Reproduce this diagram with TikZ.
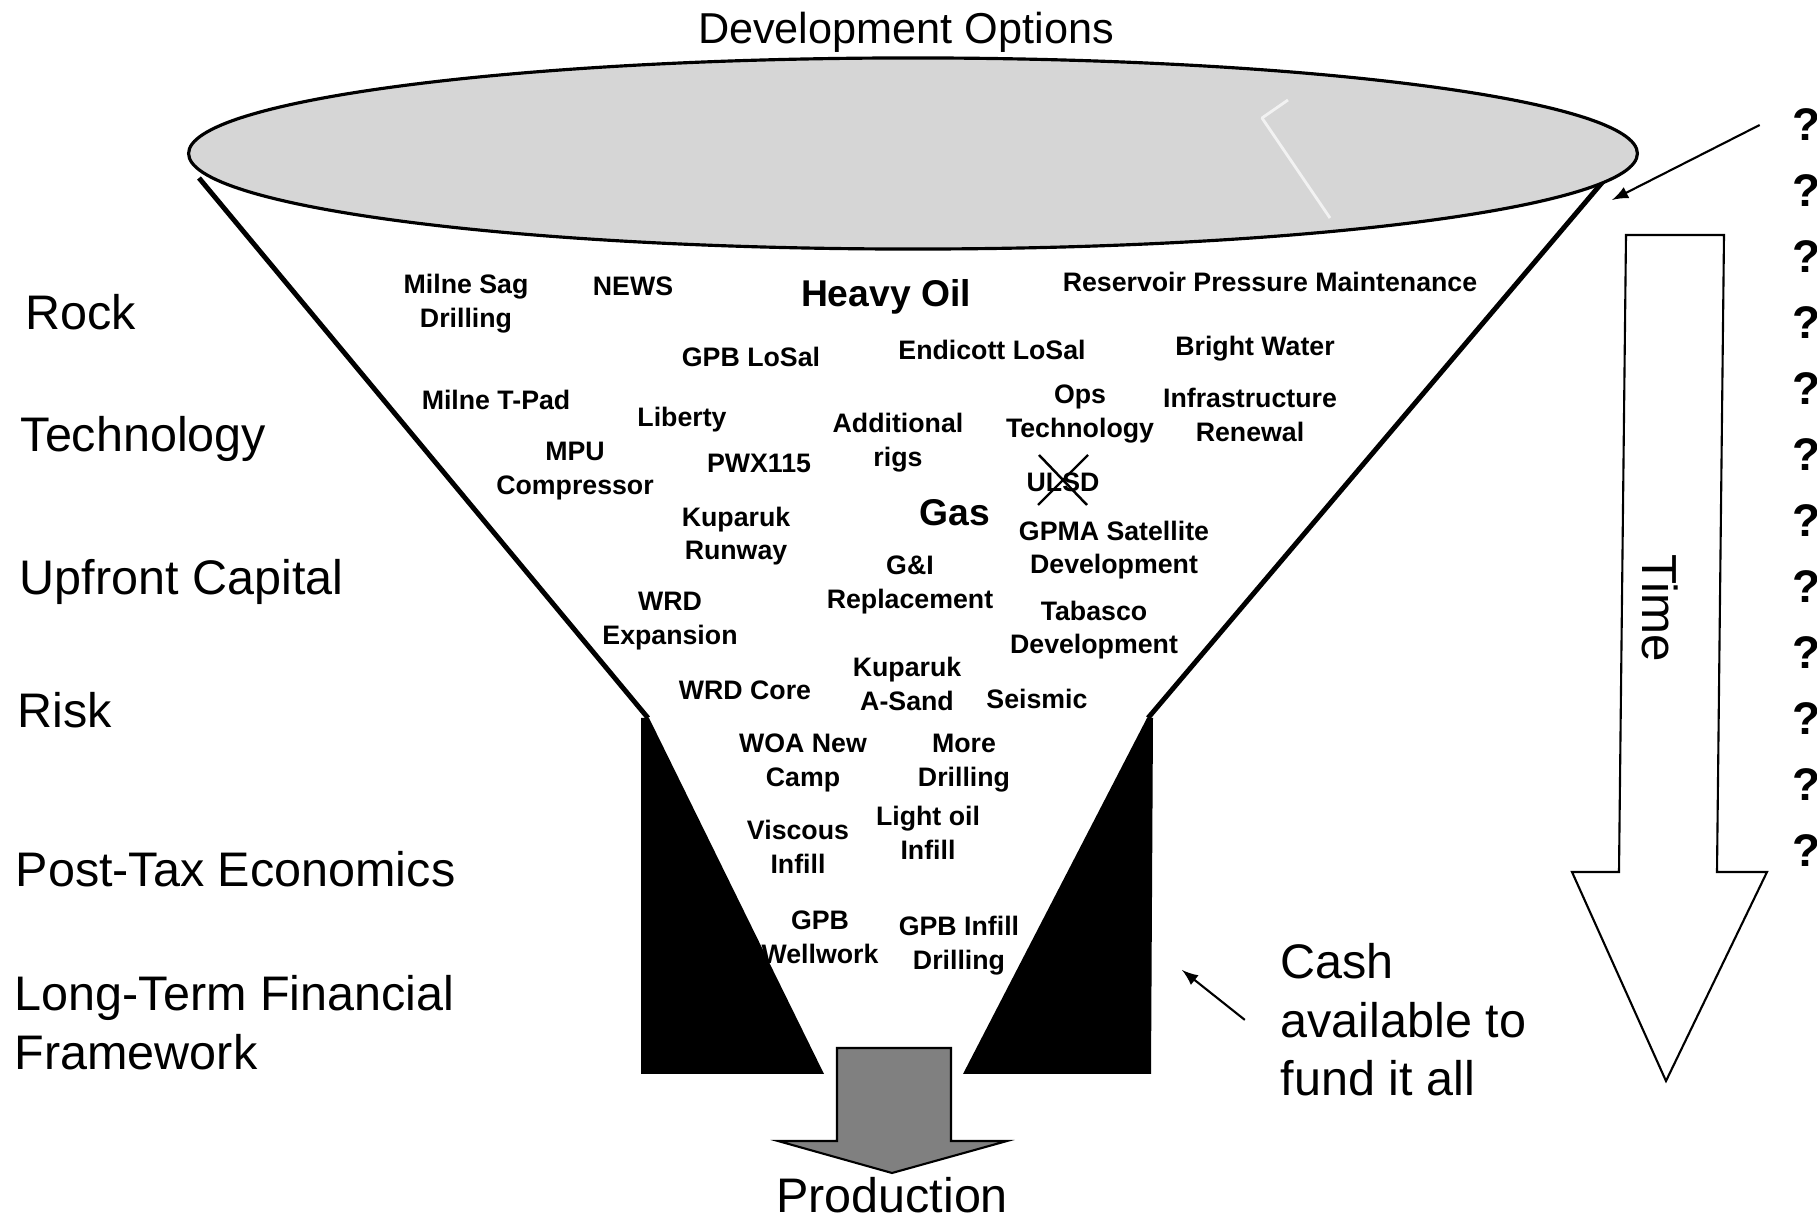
\documentclass[tikz,border=0pt]{standalone}
\usepackage{fontspec}
\setmainfont{Liberation Sans}
\usetikzlibrary{arrows}
\tikzset{>=latex}
\definecolor{rimgray}{gray}{0.84}
\definecolor{flowgray}{gray}{0.5}
\tikzset{
  option/.style={font=\bfseries\fontsize{7.6}{9.6}\selectfont,align=center,inner sep=0pt},
  bigoption/.style={font=\bfseries\fontsize{10.6}{12}\selectfont,inner sep=0pt},
  factor/.style={font=\fontsize{13.8}{16.6}\selectfont,align=left,inner sep=0pt},
  qmark/.style={font=\bfseries\fontsize{13}{13}\selectfont,inner sep=0pt},
  funnel/.style={line width=1.4pt},
  pointer/.style={->,line width=0.6pt}
}

\begin{document}
\begin{tikzpicture}[x=0.01cm,y=-0.01cm]
  \useasboundingbox (0,0) rectangle (1817,1222);
  % funnel walls, then the rim over their ends
  \draw[funnel] (199,178) -- (648,718);
  \draw[funnel] (1606,178) -- (1148,718);
  \draw[fill=rimgray,line width=0.9pt] (913,153.5) ellipse [x radius=7.24cm,y radius=0.955cm];
  \draw[white,line width=0.8pt,opacity=0.7,line join=round] (1288,100) -- (1262,118) -- (1330,218);
  \node[font=\fontsize{12.3}{14}\selectfont,anchor=base,inner sep=0pt] (devopt) at (906,44) {Development Options};

  % screening factors
  \node[factor,anchor=base west] (rock) at (25,330) {Rock};
  \node[factor,anchor=base west] (tech) at (20,452) {Technology};
  \node[factor,anchor=base west] (capital) at (19,595) {Upfront Capital};
  \node[factor,anchor=base west] (risk) at (17,728) {Risk};
  \node[factor,anchor=base west] (posttax) at (15,887) {Post-Tax Economics};
  \node[factor,anchor=north west] (longterm) at (14,975) {Long-Term Financial\\Framework};

  % options in the funnel
  \node[option] (milnesag) at (466,304) {Milne Sag\\Drilling};
  \node[option] (news) at (633,286) {NEWS};
  \node[bigoption] (heavyoil) at (886,297) {Heavy Oil};
  \node[option] (rpm) at (1270,282) {Reservoir Pressure Maintenance};
  \node[option] (gpblosal) at (751,357) {GPB LoSal};
  \node[option] (endicott) at (992,350) {Endicott LoSal};
  \node[option] (brightwater) at (1255,349) {Bright Water};
  \node[option] (milnetpad) at (496,400) {Milne T-Pad};
  \node[option] (liberty) at (682,420) {Liberty};
  \node[option] (mpu) at (575,471) {MPU\\Compressor};
  \node[option] (pwx) at (759,463) {PWX115};
  \node[option] (rigs) at (898,443) {Additional\\rigs};
  \node[option] (opstech) at (1080,414) {Ops\\Technology};
  \node[option] (infra) at (1250,415) {Infrastructure\\Renewal};
  \node[option] (ulsd) at (1063,482) {ULSD};
  \draw[line width=0.7pt] (1039,455) -- (1087,505) (1088,455) -- (1038,505);
  \node[bigoption] (gas) at (955,513) {Gas};
  \node[option] (kupruny) at (736,536) {Kuparuk\\Runway};
  \node[option] (gpma) at (1114,550) {GPMA Satellite\\Development};
  \node[option] (gandi) at (910,585) {G\&I\\Replacement};
  \node[option] (wrdexp) at (670,621) {WRD\\Expansion};
  \node[option] (tabasco) at (1094,630) {Tabasco\\Development};
  \node[option] (kupasand) at (907,684) {Kuparuk\\A-Sand};
  \node[option] (wrdcore) at (745,690) {WRD Core};
  \node[option] (seismic) at (1037,699) {Seismic};
  \node[option] (woa) at (803,763) {WOA New\\Camp};
  \node[option] (moredrill) at (964,763) {More\\Drilling};
  \node[option] (viscous) at (798,847) {Viscous\\Infill};
  \node[option] (lightoil) at (928,833) {Light oil\\Infill};
  \node[option] (wellwork) at (820,937) {GPB\\Wellwork};
  \node[option] (gpbinfill) at (959,946) {GPB Infill\\Drilling};

  % neck of the funnel
  \fill (641,718) -- (649,718) -- (824,1074) -- (641,1074) -- cycle;
  \fill (1147,718) -- (1153,718) -- (1151,1074) -- (963,1074) -- cycle;
  \draw[fill=flowgray,line width=0.6pt] (837,1048) -- (951,1048) -- (951,1141) -- (1007,1141)
    -- (892,1173) -- (778,1141) -- (837,1141) -- cycle;
  \node[factor,anchor=base] (prod) at (892,1213) {Production};

  % cash
  \node[factor,anchor=north west] (cash) at (1280,943) {Cash\\available to\\fund it all};
  \coordinate (cashtip) at (1182,970);
  \draw[pointer] ([xshift=-10pt]cash.west) -- (cashtip);

  % time arrow
  \draw[line width=0.6pt,fill=white] (1626,235) -- (1724,235) -- (1717,872) -- (1767,872)
    -- (1666,1081) -- (1572,872) -- (1619,872) -- cycle;
  \node[font=\fontsize{14}{14}\selectfont,rotate=-90,inner sep=0pt] (time) at (1660,608) {Time};

  % open questions
  \foreach \i in {0,...,11}
    \node[qmark] (q\i) at (1806,{125+66*\i}) {?};
  \coordinate (rimtip) at (1612,200);
  \draw[pointer] ([xshift=-9pt]q0.west) -- (rimtip);
\end{tikzpicture}
\end{document}
